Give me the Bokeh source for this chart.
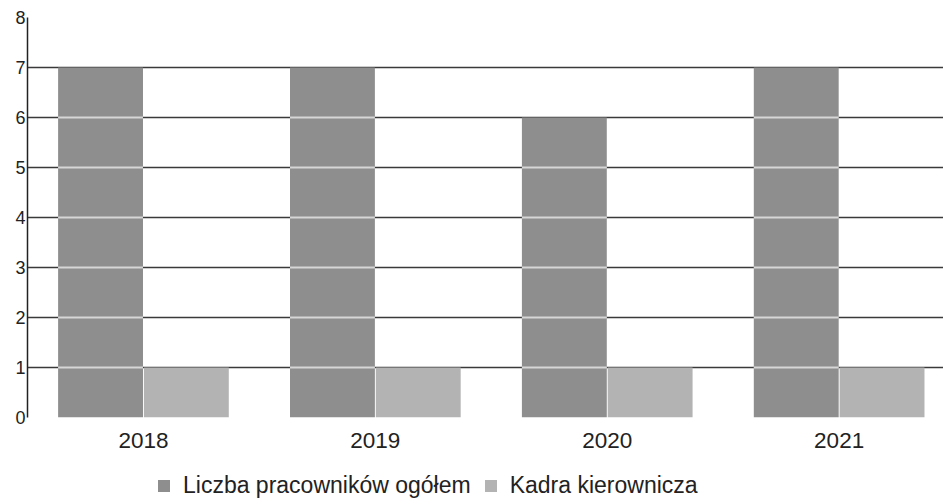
import numpy as np
from bokeh.plotting import figure
from bokeh.layouts import column
from bokeh.models import Range1d, FixedTicker, Legend, LegendItem, ColumnDataSource
from bokeh.embed import file_html
from bokeh.resources import INLINE

years = ["2018", "2019", "2020", "2021"]
total = [7, 7, 6, 7]
kadra = [1, 1, 1, 1]
series_names = ["Liczba pracowników ogółem", "Kadra kierownicza"]
colors = ["#8e8e8e", "#b3b3b3"]

x = np.arange(len(years))
offset = 0.185
bw = 0.366

p = figure(width=943, height=456, output_backend="svg", toolbar_location=None,
           x_range=Range1d(-0.5, 3.45), y_range=Range1d(0, 8))
p.min_border_left = 27
p.min_border_right = 0
p.min_border_top = 17
p.min_border_bottom = 39
p.outline_line_color = None
p.background_fill_color = "white"

p.xgrid.grid_line_color = None
p.ygrid.grid_line_color = "#3a3a3a"
p.ygrid.grid_line_width = 1.6
p.ygrid.ticker = FixedTicker(ticks=list(range(0, 9)))

src1 = ColumnDataSource(dict(x=x - offset, top=total))
src2 = ColumnDataSource(dict(x=x + offset, top=kadra))
r1 = p.vbar(x="x", top="top", width=bw, source=src1, fill_color=colors[0], line_color=None)
r2 = p.vbar(x="x", top="top", width=bw, source=src2, fill_color=colors[1], line_color=None)

# light grid lines seen across the bars
x0s, x1s, ys = [], [], []
for xs, vals in ((x - offset, total), (x + offset, kadra)):
    for xc, v in zip(xs, vals):
        for k in range(1, int(v)):
            x0s.append(xc - bw / 2); x1s.append(xc + bw / 2); ys.append(k)
p.segment(x0=x0s, y0=ys, x1=x1s, y1=ys, line_color="#d6d6d6", line_width=2)

p.yaxis.ticker = FixedTicker(ticks=list(range(0, 9)))
p.yaxis.axis_line_color = "#222222"
p.yaxis.axis_line_width = 1.5
p.yaxis.major_tick_out = 0
p.yaxis.major_tick_in = 0
p.yaxis.minor_tick_line_color = None
p.yaxis.major_label_standoff = 2
p.yaxis.major_label_text_font = "Liberation Sans"
p.yaxis.major_label_text_font_size = "18px"
p.yaxis.major_label_text_color = "#222222"

p.xaxis.ticker = FixedTicker(ticks=list(x))
p.xaxis.major_label_overrides = {int(i): y for i, y in zip(x, years)}
p.xaxis.axis_line_color = None
p.xaxis.major_tick_line_color = None
p.xaxis.minor_tick_line_color = None
p.xaxis.major_label_standoff = 9
p.xaxis.major_label_text_font = "Liberation Sans"
p.xaxis.major_label_text_font_size = "22.5px"
p.xaxis.major_label_text_color = "#222222"

# legend strip below the chart (series drawn off-range so only the legend shows)
lg = figure(width=943, height=43, output_backend="svg", toolbar_location=None,
            x_range=Range1d(100, 101), y_range=Range1d(100, 101),
            x_axis_type=None, y_axis_type=None)
lg.min_border = 0
lg.outline_line_color = None
lg.xgrid.grid_line_color = None
lg.ygrid.grid_line_color = None
e1 = lg.vbar(x="x", top="top", width=bw, source=src1, fill_color=colors[0], line_color=None)
e2 = lg.vbar(x="x", top="top", width=bw, source=src2, fill_color=colors[1], line_color=None)

legend = Legend(items=[LegendItem(label=series_names[0], renderers=[e1]),
                       LegendItem(label=series_names[1], renderers=[e2])],
                orientation="horizontal", location=(129, 0))
legend.label_text_font = "Liberation Sans"
legend.label_text_font_size = "23px"
legend.label_text_color = "#222222"
legend.glyph_width = 15
legend.glyph_height = 15
legend.spacing = 12
legend.label_standoff = 12
legend.border_line_color = None
legend.background_fill_alpha = 0
legend.padding = 2
legend.margin = 0
lg.add_layout(legend, "center")

layout = column(p, lg, spacing=0)
open("out.html", "w").write(file_html(layout, INLINE))
